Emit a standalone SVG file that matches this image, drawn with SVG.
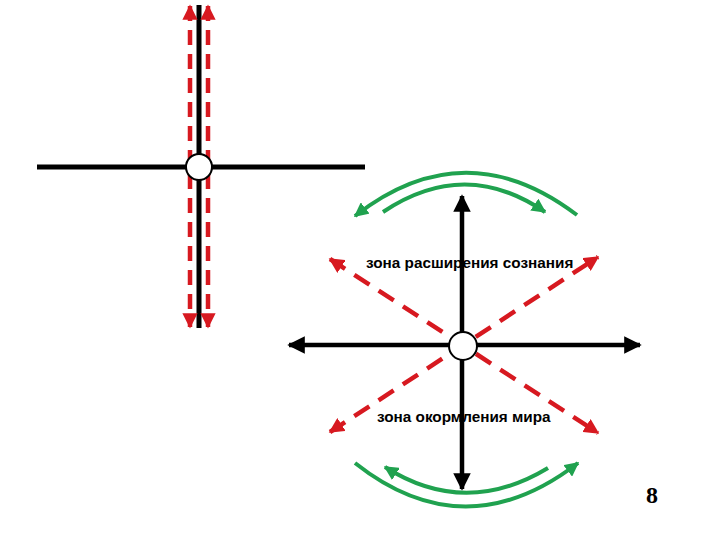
<svg xmlns="http://www.w3.org/2000/svg" width="720" height="540" viewBox="0 0 720 540">
<style>
.blk{stroke:#000;stroke-width:5;fill:none}
.red{stroke:#d71920;stroke-width:4.5;fill:none;stroke-dasharray:15 9}
.grn{stroke:#20a24f;stroke-width:4;fill:none}
.node{fill:#fff;stroke:#000;stroke-width:2}
.lbl{font-family:"Liberation Sans",Arial,sans-serif;font-weight:bold;font-size:15.3px;fill:#000}
</style>
<defs>
<marker id="ab" viewBox="0 0 10 10" refX="9" refY="5" markerWidth="3.9" markerHeight="3.9" orient="auto-start-reverse" markerUnits="strokeWidth"><path d="M0,0 L10,5 L0,10 Z" fill="#000"/></marker>
<marker id="ar" viewBox="0 0 10 10" refX="9" refY="5" markerWidth="3.4" markerHeight="3.4" orient="auto-start-reverse" markerUnits="strokeWidth"><path d="M0,0 L10,5 L0,10 Z" fill="#d71920"/></marker>
<marker id="ag" viewBox="0 0 10 10" refX="9" refY="5" markerWidth="3.6" markerHeight="3.6" orient="auto-start-reverse" markerUnits="strokeWidth"><path d="M0,0 L10,5 L0,10 Z" fill="#20a24f"/></marker>
</defs>
<rect width="720" height="540" fill="#fff"/>
<g id="labels">
<text class="lbl" x="366" y="268">зона расширения сознания</text>
<text class="lbl" x="377" y="422">зона окормления мира</text>
</g>
<g id="connectors">
<line class="blk" x1="37" y1="167" x2="365" y2="167"/>
<line class="blk" x1="199" y1="5" x2="199" y2="328"/>
<line class="red" x1="190" y1="6" x2="190" y2="327" marker-start="url(#ar)" marker-end="url(#ar)"/>
<line class="red" x1="208" y1="6" x2="208" y2="327" marker-start="url(#ar)" marker-end="url(#ar)"/>
<line class="red" x1="330" y1="259" x2="598" y2="433" marker-start="url(#ar)" marker-end="url(#ar)" style="stroke-dasharray:18 11"/>
<line class="red" x1="330" y1="432" x2="598" y2="257" marker-start="url(#ar)" marker-end="url(#ar)" style="stroke-dasharray:18 11"/>
<line class="blk" x1="289" y1="345" x2="640" y2="345" marker-start="url(#ab)" marker-end="url(#ab)" style="stroke-width:4.5"/>
<line class="blk" x1="462" y1="196" x2="462" y2="489" marker-start="url(#ab)" marker-end="url(#ab)" style="stroke-width:4.5"/>
<path class="grn" d="M577,215 Q465,130 355,216" marker-end="url(#ag)"/>
<path class="grn" d="M383,212 Q465,157 545,212" marker-end="url(#ag)"/>
<path class="grn" d="M355,463 Q465,550 578,463" marker-end="url(#ag)"/>
<path class="grn" d="M548,468 Q465,518 385,467" marker-end="url(#ag)"/>
</g>
<g id="node-left"><circle class="node" cx="199" cy="167" r="13"/></g>
<g id="node-right"><circle class="node" cx="463" cy="346" r="14"/></g>
<g id="page-number"><text x="646" y="503" font-family="'Liberation Serif','Times New Roman',serif" font-weight="bold" font-size="24" fill="#000">8</text></g>
</svg>
